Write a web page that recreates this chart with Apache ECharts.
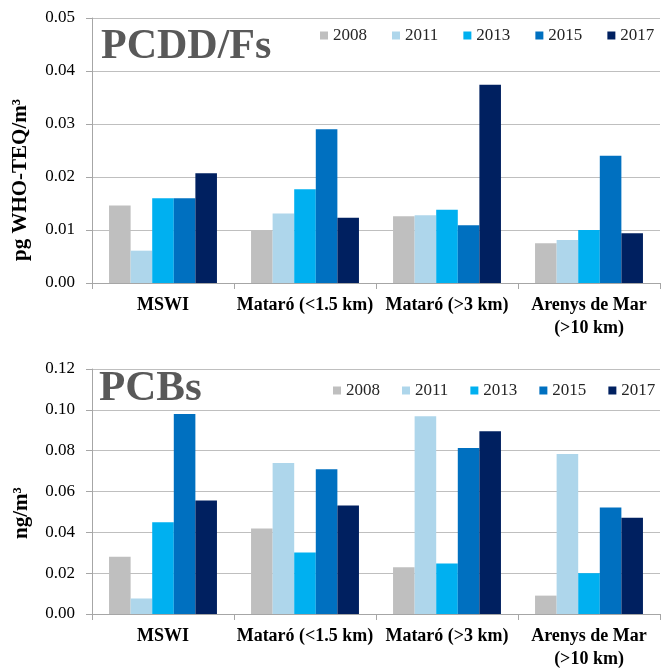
<!DOCTYPE html>
<html>
<head>
<meta charset="utf-8">
<script src="https://cdn.jsdelivr.net/npm/echarts@6/dist/echarts.min.js"></script>
<style>
html,body{margin:0;padding:0;background:#fff;}
#c{width:662px;height:671px;}
</style>
</head>
<body>
<div id="c"></div>
<script>
const categories = ['MSWI', 'Mataró (<1.5 km)', 'Mataró (>3 km)', 'Arenys de Mar\n(>10 km)'];
const years = ['2008', '2011', '2013', '2015', '2017'];
const colors = ['#BFBFBF', '#AED6EB', '#00B0F0', '#0070C0', '#002060'];

// PCDD/Fs (pg WHO-TEQ/m3), per year across categories
const pcdd2008 = [0.0146, 0.0099, 0.0126, 0.0075];
const pcdd2011 = [0.0061, 0.0131, 0.0128, 0.0081];
const pcdd2013 = [0.0160, 0.0177, 0.0138, 0.0100];
const pcdd2015 = [0.0160, 0.0290, 0.0109, 0.0240];
const pcdd2017 = [0.0207, 0.0123, 0.0374, 0.0094];

// PCBs (ng/m3)
const pcb2008 = [0.0281, 0.0419, 0.0229, 0.0090];
const pcb2011 = [0.0076, 0.0740, 0.0968, 0.0784];
const pcb2013 = [0.0450, 0.0301, 0.0247, 0.0200];
const pcb2015 = [0.0980, 0.0709, 0.0813, 0.0522];
const pcb2017 = [0.0556, 0.0532, 0.0895, 0.0471];

const pcddSeries = [pcdd2008, pcdd2011, pcdd2013, pcdd2015, pcdd2017];
const pcbSeries = [pcb2008, pcb2011, pcb2013, pcb2015, pcb2017];

const FONT = '"Liberation Serif", "Times New Roman", serif';
const GRID_COLOR = '#BFBFBF';
const AXIS_COLOR = '#A6A6A6';

function xAxis(gi) {
  return {
    type: 'category', gridIndex: gi, data: categories,
    axisLine: { show: true, lineStyle: { color: AXIS_COLOR, width: 1 } },
    axisTick: { show: true, length: 6, lineStyle: { color: AXIS_COLOR } },
    axisLabel: { color: '#000', fontFamily: FONT, fontSize: 18, fontWeight: 'bold', margin: 11, lineHeight: 23, interval: 0 }
  };
}
function yAxis(gi, max, interval) {
  return {
    type: 'value', gridIndex: gi, min: 0, max: max, interval: interval,
    axisLine: { show: true, lineStyle: { color: AXIS_COLOR, width: 1 } },
    axisTick: { show: true, length: 6, lineStyle: { color: AXIS_COLOR } },
    splitLine: { show: true, lineStyle: { color: GRID_COLOR, width: 1 } },
    axisLabel: { color: '#000', fontFamily: FONT, fontSize: 17, margin: 17, formatter: v => v.toFixed(2) }
  };
}

const series = [];
years.forEach((y, i) => {
  series.push({ name: y, type: 'bar', xAxisIndex: 0, yAxisIndex: 0, data: pcddSeries[i],
    itemStyle: { color: colors[i] }, barGap: '0%', barCategoryGap: '24%' });
});
years.forEach((y, i) => {
  series.push({ name: y, type: 'bar', xAxisIndex: 1, yAxisIndex: 1, data: pcbSeries[i],
    itemStyle: { color: colors[i] }, barGap: '0%', barCategoryGap: '24%' });
});

const legendCommon = {
  data: years, icon: 'rect', itemWidth: 8, itemHeight: 8,
  textStyle: { fontFamily: FONT, fontSize: 17, color: '#262626' },
  selectedMode: false, padding: 0
};

const chart = echarts.init(document.getElementById('c'), null, { renderer: 'canvas' });
chart.setOption({
  animation: false,
  backgroundColor: '#fff',
  color: colors,
  grid: [
    { left: 92, right: 2, top: 18, height: 265 },
    { left: 92, right: 2, top: 369, height: 248 }
  ],
  xAxis: [xAxis(0), xAxis(1)],
  yAxis: [yAxis(0, 0.05, 0.01), yAxis(1, 0.12, 0.02)],
  legend: [
    Object.assign({}, legendCommon, { left: 320, top: 27, itemGap: 25 }),
    Object.assign({}, legendCommon, { left: 333, top: 382, itemGap: 22 })
  ],
  title: [
    { text: 'PCDD/Fs', left: 96, top: 21, textStyle: { fontFamily: FONT, fontSize: 42, fontWeight: 'bold', color: '#595959' } },
    { text: 'PCBs', left: 94, top: 362, textStyle: { fontFamily: FONT, fontSize: 43, fontWeight: 'bold', color: '#595959' } }
  ],
  graphic: [
    { type: 'text', x: 21, y: 180, rotation: Math.PI / 2,
      style: { text: 'pg WHO-TEQ/m³', font: 'bold 21px ' + FONT, fill: '#000', align: 'center', verticalAlign: 'middle' } },
    { type: 'text', x: 22, y: 513, rotation: Math.PI / 2,
      style: { text: 'ng/m³', font: 'bold 21px ' + FONT, fill: '#000', align: 'center', verticalAlign: 'middle' } }
  ],
  series: series
});
</script>
</body>
</html>
